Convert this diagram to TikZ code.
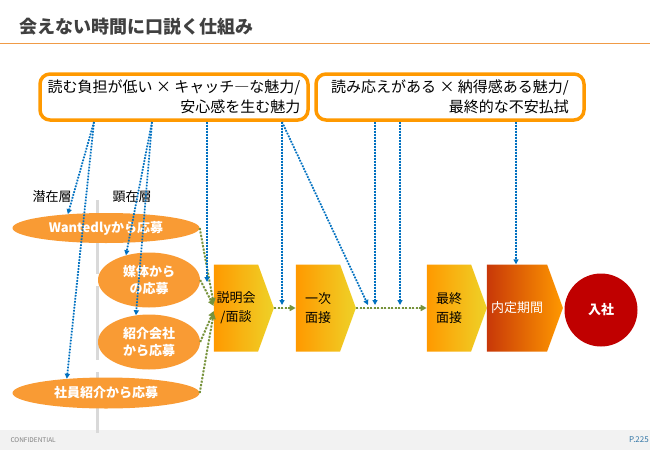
\documentclass[tikz,border=0pt]{standalone}
\usepackage{fontspec}
\setmainfont{Noto Sans CJK JP}
\usetikzlibrary{shapes.geometric,shapes.symbols,arrows.meta}
\definecolor{daidai}{RGB}{255,153,0}
\definecolor{daen}{RGB}{249,155,52}
\definecolor{kiiro}{RGB}{238,210,40}
\definecolor{akane}{RGB}{200,56,8}
\definecolor{shinku}{RGB}{192,0,0}
\definecolor{aoi}{RGB}{0,112,192}
\definecolor{midori}{RGB}{119,147,60}
\definecolor{hai}{RGB}{217,217,217}
\definecolor{sumi}{RGB}{64,64,64}
\definecolor{fuchi}{RGB}{242,242,242}
\definecolor{sen}{RGB}{240,155,70}

\begin{document}
\begin{tikzpicture}[x=1pt,y=-1pt,
  waku/.style={draw=daidai,line width=3.5pt,rounded corners=10pt,fill=white,
    minimum width=268pt,minimum height=46pt,inner sep=0pt,align=right,
    font=\fontsize{15}{20}\selectfont},
  oval/.style={ellipse,fill=daen,text=white,inner sep=0pt,align=center,
    font=\fontsize{13}{17}\bfseries},
  chev/.style={signal,signal to=east,signal from=nowhere,signal pointer angle=140,
    minimum width=60pt,minimum height=87pt,inner sep=0pt,align=center,
    left color=daidai,right color=kiiro,font=\fontsize{13}{19}\selectfont},
  ao/.style={-{Triangle[length=5pt,width=5pt]},draw=aoi,fill=aoi,line width=1.8pt,
    dash pattern=on 1.6pt off 1.4pt},
  midoriya/.style={-{Triangle[length=6pt,width=6pt]},draw=midori,fill=midori,
    line width=2pt,dash pattern=on 2pt off 1.5pt},
  sou/.style={font=\fontsize{13}{13}\selectfont}]
  \useasboundingbox (0,0) rectangle (650,450);
  % title
  \node (title) at (16,27) [anchor=west,text=sumi,font=\fontsize{18}{18}\bfseries]{会えない時間に口説く仕組み};
  \draw[sen,line width=1pt] (0,43)--(650,43);
  % footer
  \fill[fuchi] (0,430) rectangle (650,450);
  \node (conf) at (7,440) [anchor=west,text=gray,font=\fontsize{6.5}{6.5}\selectfont]{CONFIDENTIAL};
  \node (page) at (650,440) [anchor=east,inner xsep=1pt,text=aoi!60!gray,font=\fontsize{8}{8}\selectfont]{P.225};
  % dividing line
  \draw[hai,line width=3pt,dash pattern=on 74pt off 12pt] (97,200)--(97,433);
  % top boxes
  \node (yomu) at (174,97) [waku]{読む負担が低い × キャッチ―な魅力/\\安心感を生む魅力};
  \node (yomigo) at (450,97) [waku]{読み応えがある × 納得感ある魅力/\\最終的な不安払拭};
  % layers
  \node (senzai) at (52,197) [sou]{潜在層};
  \node (kenzai) at (132,197) [sou]{顕在層};
  % entries
  \node (wanted) at (106,228) [oval,minimum width=187pt,minimum height=30pt]{Wantedlyから応募};
  \node (baitai) at (149,280) [oval,minimum width=102pt,minimum height=55pt]{媒体から\\の応募};
  \node (shokai) at (149,342) [oval,minimum width=102pt,minimum height=55pt]{紹介会社\\から応募};
  \node (shain) at (106,393) [oval,minimum width=187pt,minimum height=31pt]{社員紹介から応募};
  % steps
  \node (setsu) at (236,308) [chev]{説明会\\/面談};
  \node (ichiji) at (318,308) [chev]{一次\\面接};
  \node (saishu) at (449,308) [chev]{最終\\面接};
  \node (naitei) at (517,308) [chev,minimum width=76pt,left color=akane,right color=daidai,text=white]{内定期間};
  \node (nyusha) at (601,310) [circle,fill=shinku,minimum size=73pt,inner sep=0pt,text=white,font=\fontsize{13}{13}\bfseries]{入社};
  % flow
  \draw[midoriya] (wanted.east) -- ([yshift=4pt]setsu.west);
  \draw[midoriya] (baitai.east) -- ([yshift=2pt]setsu.west);
  \draw[midoriya] (shokai.east) -- ([yshift=-3pt]setsu.west);
  \draw[midoriya] (shain.east) -- ([yshift=-5pt]setsu.west);
  \draw[midoriya] (setsu.east) -- (ichiji.west);
  \draw[midoriya] (ichiji.east) -- (saishu.west);
  % appeal arrows
  \coordinate (p1) at (94,122);
  \coordinate (p2) at (152,122);
  \coordinate (p3) at (207,122);
  \coordinate (p4) at (282,122);
  \coordinate (q1) at (375,122);
  \coordinate (q2) at (400,122);
  \coordinate (q3) at (516,122);
  \coordinate (e3) at (207,282);
  \coordinate (e4) at (282,305);
  \coordinate (e5) at (368,305);
  \coordinate (f1) at (375,305);
  \coordinate (f2) at (400,305);
  \draw[ao] (p1) -- (wanted.160);
  \draw[ao] (p1) -- (shain.160);
  \draw[ao] (p2) -- (baitai.133);
  \draw[ao] (p2) -- (shokai.116);
  \draw[ao] (p3) -- (e3);
  \draw[ao] (p4) -- (e4);
  \draw[ao] (p4) -- (e5);
  \draw[ao] (q1) -- (f1);
  \draw[ao] (q2) -- (f2);
  \draw[ao] (q3) -- (naitei.north -| q3);
\end{tikzpicture}
\end{document}
